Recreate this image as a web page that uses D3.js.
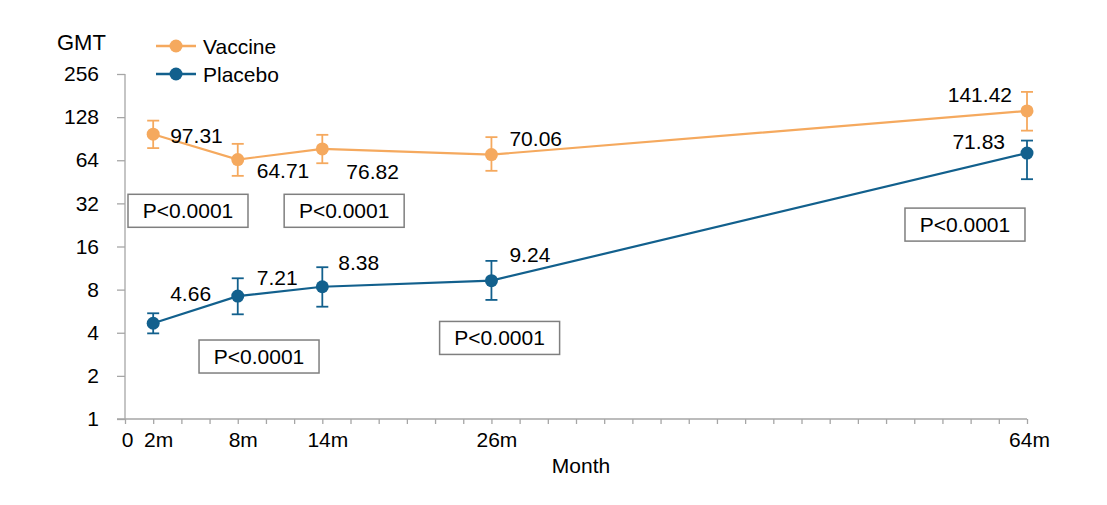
<!DOCTYPE html>
<html>
<head>
<meta charset="utf-8">
<script src="https://cdn.jsdelivr.net/npm/d3@7"></script>
<style>
  body { margin: 0; background: #fff; }
  text { font-family: "Liberation Sans", Arial, sans-serif; fill: #000; }
</style>
</head>
<body>
<svg id="chart" width="1107" height="505"></svg>
<script>
// data
var months = [2, 8, 14, 26, 64];
var vaccine = [97.31, 64.71, 76.82, 70.06, 141.42];
var vaccineHi = [121, 83.3, 96.3, 92.8, 192];
var vaccineLo = [77.8, 49.8, 61, 54, 103];
var placebo = [4.66, 7.21, 8.38, 9.24, 71.83];
var placeboHi = [5.47, 9.6, 11.47, 12.7, 87.8];
var placeboLo = [3.96, 5.38, 6.08, 6.78, 47.2];
var yTicks = [1, 2, 4, 8, 16, 32, 64, 128, 256];
var xLabels = [0, 2, 8, 14, 26, 64];
var pText = "P<0.0001";
// p-value boxes, anchored at (month, GMT)
var pBoxMonth = [4.47, 15.55, 9.51, 26.58, 59.6];
var pBoxGMT = [28.4, 28.4, 2.73, 3.68, 22.75];

var orange = "#F5A95E", blue = "#12608D", axisCol = "#a6a6a6";
var fs = 21;

var svg = d3.select("#chart");
var x = d3.scaleLinear().domain([0, 64]).range([125, 1027]);
var y = d3.scaleLog().base(2).domain([1, 256]).range([419, 74]);

// y axis
var yAxis = svg.append("g").attr("transform", "translate(125,0)")
  .call(d3.axisLeft(y).tickValues(yTicks).tickFormat(d3.format("d")).tickSize(8).tickPadding(18));
// x axis
var xAxis = svg.append("g").attr("transform", "translate(0,419)")
  .call(d3.axisBottom(x).tickValues(d3.range(0, 65, 2)).tickSize(5)
    .tickFormat(function(d) { return xLabels.indexOf(d) < 0 ? "" : (d === 0 ? "0" : d + "m"); })
    .tickPadding(8));
[yAxis, xAxis].forEach(function(g) {
  g.select(".domain").remove();
  g.selectAll("line").attr("stroke", axisCol).attr("stroke-width", 1.3);
  g.selectAll("text").attr("font-size", fs).style("font-family", "Liberation Sans, Arial, sans-serif");
});
xAxis.selectAll("text").attr("dx", function(d) { return d === 0 || d === 64 ? 2 : 5; });
svg.append("line").attr("x1", 125).attr("x2", 125).attr("y1", y(256)).attr("y2", y(1))
  .attr("stroke", axisCol).attr("stroke-width", 1.3);
svg.append("line").attr("x1", 117).attr("x2", x(64)).attr("y1", y(1)).attr("y2", y(1))
  .attr("stroke", axisCol).attr("stroke-width", 1.3);

svg.append("text").attr("x", 57).attr("y", 50).attr("font-size", 22).text("GMT");
svg.append("text").attr("x", 581).attr("y", 473).attr("text-anchor", "middle").attr("font-size", fs).text("Month");

// p-value boxes
pBoxMonth.forEach(function(m, i) {
  var cx = x(m), cy = y(pBoxGMT[i]);
  svg.append("rect").attr("x", cx - 60).attr("y", cy - 16.5).attr("width", 120).attr("height", 33)
    .attr("fill", "#fff").attr("stroke", "#7f7f7f").attr("stroke-width", 1.5);
  svg.append("text").attr("x", cx).attr("y", cy).attr("dy", "0.36em").attr("text-anchor", "middle")
    .attr("font-size", fs).text(pText);
});

function series(vals, hi, lo, color, offs) {
  var line = d3.line().x(function(d, i) { return x(months[i]); }).y(function(d) { return y(d); });
  svg.append("path").datum(vals).attr("d", line).attr("fill", "none").attr("stroke", color).attr("stroke-width", 2.2);
  var g = svg.append("g");
  vals.forEach(function(v, i) {
    var px = x(months[i]);
    g.append("line").attr("x1", px).attr("x2", px).attr("y1", y(hi[i])).attr("y2", y(lo[i]))
      .attr("stroke", color).attr("stroke-width", 1.8);
    [hi[i], lo[i]].forEach(function(e) {
      g.append("line").attr("x1", px - 6).attr("x2", px + 6).attr("y1", y(e)).attr("y2", y(e))
        .attr("stroke", color).attr("stroke-width", 1.8);
    });
    g.append("circle").attr("cx", px).attr("cy", y(v)).attr("r", 6.5).attr("fill", color);
    var o = offs[i];
    g.append("text").attr("x", px + o[0]).attr("y", y(v) + o[1]).attr("dy", "0.36em")
      .attr("text-anchor", o[0] < 0 ? "end" : "start").attr("font-size", fs).text(v.toFixed(2));
  });
}
// label offsets from each point (dx, dy)
series(vaccine, vaccineHi, vaccineLo, orange, [[17, 1], [19, 11], [24, 23], [18, -16], [-15, -16]]);
series(placebo, placeboHi, placeboLo, blue, [[17, -30], [19, -19], [16, -24], [18, -26], [-22, -12]]);

// legend
[["Vaccine", orange, 46], ["Placebo", blue, 74]].forEach(function(l) {
  svg.append("line").attr("x1", 156).attr("x2", 196).attr("y1", l[2]).attr("y2", l[2])
    .attr("stroke", l[1]).attr("stroke-width", 2.5);
  svg.append("circle").attr("cx", 176).attr("cy", l[2]).attr("r", 6.5).attr("fill", l[1]);
  svg.append("text").attr("x", 203).attr("y", l[2]).attr("dy", "0.36em").attr("font-size", fs).text(l[0]);
});
</script>
</body>
</html>
